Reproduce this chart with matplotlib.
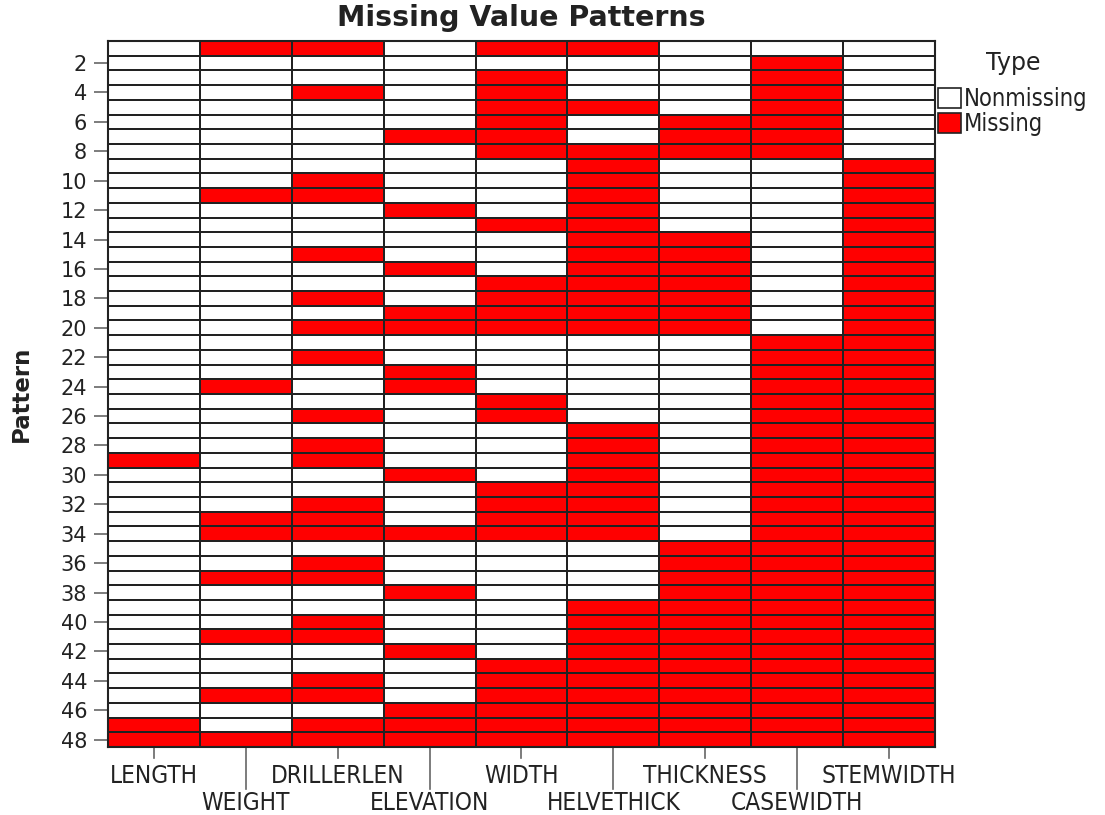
import matplotlib
matplotlib.use("Agg")
import matplotlib.pyplot as plt
import numpy as np
from matplotlib.colors import ListedColormap
from matplotlib.patches import Patch

variables = ["LENGTH", "WEIGHT", "DRILLERLEN", "ELEVATION", "WIDTH",
             "HELVETHICK", "THICKNESS", "CASEWIDTH", "STEMWIDTH"]

# 1 = Missing, 0 = Nonmissing; one string per pattern (rows 1..48)
patterns = [
    "011011000", "000000010", "000010010", "001010010", "000011010",
    "000010110", "000110110", "000011110", "000001001", "001001001",
    "011001001", "000101001", "000011001", "000001101", "001001101",
    "000101101", "000011101", "001011101", "000111101", "001111101",
    "000000011", "001000011", "000100011", "010100011", "000010011",
    "001010011", "000001011", "001001011", "101001011", "000101011",
    "000011011", "001011011", "011011011", "011111011", "000000111",
    "001000111", "011000111", "000100111", "000001111", "001001111",
    "011001111", "000101111", "000011111", "001011111", "011011111",
    "000111111", "101111111", "111111111",
]
type_labels = ["Nonmissing", "Missing"]
type_colors = ["#FFFFFF", "#FF0000"]
ytick_values = list(range(2, 49, 2))

plt.rcParams['font.family'] = ['DejaVu Sans']
TXT = "#222222"
fig = plt.figure(figsize=(11.05, 8.15), dpi=100)
ax = fig.add_axes([0.0977, 0.0834, 0.7484, 0.8663])

mat = np.array([[int(c) for c in p] for p in patterns])
nrow, ncol = mat.shape
xe = np.arange(ncol + 1) + 0.5
ye = np.arange(nrow + 1) + 0.5
ax.pcolormesh(xe, ye, mat, cmap=ListedColormap(type_colors), vmin=0, vmax=1,
              edgecolors="#222222", linewidth=1.2)
ax.set_xlim(0.5, ncol + 0.5)
ax.set_ylim(nrow + 0.5, 0.5)

for s in ax.spines.values():
    s.set_linewidth(1.5)
    s.set_color("#222222")

ax.set_yticks(ytick_values)
ax.set_yticklabels([str(v) for v in ytick_values], fontsize=15, color=TXT)
ax.tick_params(axis='y', length=10, width=1.2, color="#666666", pad=5)

ax.set_xticks([])
# staggered x labels with ticks
for i, name in enumerate(variables):
    x = i + 1
    if i % 2 == 0:
        ax.plot([x, x], [0, -0.016], transform=ax.get_xaxis_transform(),
                color="#666666", lw=1.2, clip_on=False)
        ax.text(x, -0.024, name, transform=ax.get_xaxis_transform(),
                ha='center', va='top', fontsize=17.5, stretch='condensed',
                color=TXT)
    else:
        ax.plot([x, x], [0, -0.060], transform=ax.get_xaxis_transform(),
                color="#666666", lw=1.2, clip_on=False)
        ax.text(x, -0.062, name, transform=ax.get_xaxis_transform(),
                ha='center', va='top', fontsize=17.5, stretch='condensed',
                color=TXT)

ax.set_ylabel("Pattern", fontsize=16.5, fontweight='bold', color=TXT)
ax.yaxis.set_label_coords(-0.091, 0.5)
fig.text(0.472, 0.978, "Missing Value Patterns", ha='center', va='center',
         fontsize=20.5, fontweight='bold', color=TXT)

handles = [Patch(facecolor=c, edgecolor="#222222", linewidth=1.2, label=l)
           for c, l in zip(type_colors, type_labels)]
leg = fig.legend(handles=handles, title="Type", loc='upper left',
                 bbox_to_anchor=(0.849, 0.938), frameon=False,
                 prop={'size': 17, 'stretch': 'condensed'},
                 title_fontsize=17, handlelength=0.95,
                 handleheight=0.95, handletextpad=0.15, labelspacing=0.05,
                 borderaxespad=0.0, borderpad=0.0)
for t in leg.get_texts():
    t.set_color(TXT)
leg.get_title().set_color(TXT)
leg._legend_box.sep = 9

fig.savefig("out.png", dpi=100)
